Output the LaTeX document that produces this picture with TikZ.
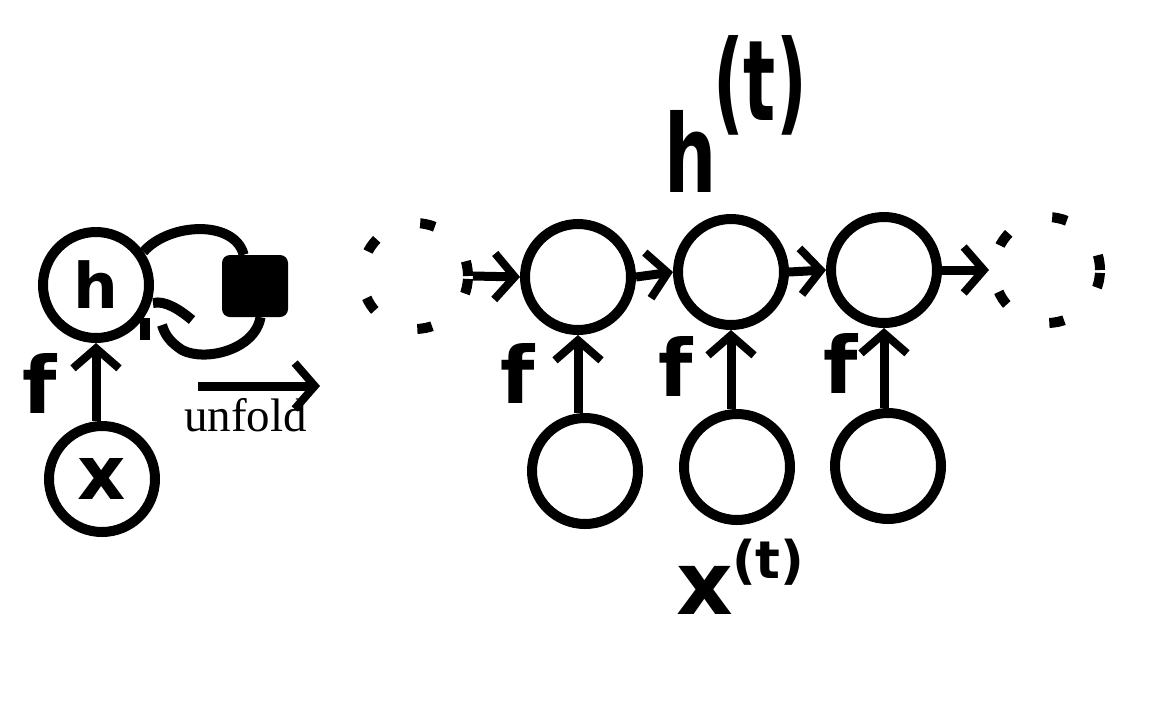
\documentclass[tikz,border=0pt]{standalone}
\usepackage{fontspec}
\usepackage{graphicx}
\setmainfont{Liberation Serif}
\newfontfamily\hand{DejaVu Sans}
\usetikzlibrary{arrows.meta}
\tikzset{
  cn/.style={circle, draw, line width=10pt, minimum size=106pt, inner sep=0pt},
  dcn/.style={circle, draw, line width=10pt, minimum size=106pt, dash pattern=on 15pt off 48pt},
  ar/.style={line width=9pt, -{Straight Barb[length=20pt,width=46pt,line width=8pt]}},
  hw/.style={font=\hand\bfseries, inner sep=0pt},
  stroke/.style={line width=10pt},
}
\begin{document}
\begin{tikzpicture}[x=1pt,y=-1pt]
\useasboundingbox (0,0) rectangle (1164,718);
% left folded graph
\node[cn, font=\hand\bfseries\fontsize{63}{63}\selectfont] (h) at (96,285) {h};
\node[cn, font=\hand\bfseries\fontsize{75}{75}\selectfont] (x) at (102,479) {x};
\draw[ar] (h |- x.north) -- (h.south);
\node[hw, font=\hand\bfseries\fontsize{79}{79}\selectfont, anchor=base] (f0) at (40,413) {f};
% recurrence loop
\node[fill, rounded corners=8pt, minimum width=66pt, minimum height=62pt] (box) at (255,286) {};
\draw[stroke] (h.35) .. controls (170,222) and (235,220) .. (box.110);
\draw[stroke] (box.-80) .. controls (255,350) and (205,362) .. (182,350) .. controls (170,342) and (165,335) .. (162,325);
\draw[stroke] (153,303) .. controls (165,300) and (180,310) .. (192,320);
\draw[stroke] (145,318) -- (145,340);
% unfold arrow
\coordinate (u1) at (198,386);
\coordinate (u2) at (320,386);
\draw[ar] (u1) -- (u2);
\node[anchor=base west, inner sep=0pt, font=\fontsize{47}{47}\selectfont] (unf) at (184,431) {unfold};
% unfolded graph
\node[dcn] (L) at (415,276) {};
\node[cn] (A) at (578,277) {};
\node[cn] (B) at (731,272) {};
\node[cn] (C) at (884,270) {};
\node[dcn] (R) at (1047,270) {};
\node[cn] (Ax) at (585,471) {};
\node[cn] (Bx) at (737,467) {};
\node[cn] (Cx) at (888,466) {};
\draw[ar] (L.east) -- (A.west);
\draw[ar] (A.east) -- (B.west);
\draw[ar] (B.east) -- (C.west);
\draw[ar] (C.east) -- (R.west);
\draw[ar] (A |- Ax.north) -- (A.south);
\draw[ar] (B |- Bx.north) -- (B.south);
\draw[ar] (C |- Cx.north) -- (C.south);
\node[hw, font=\hand\bfseries\fontsize{79}{79}\selectfont, anchor=base] (f1) at (518,403) {f};
\node[hw, font=\hand\bfseries\fontsize{79}{79}\selectfont, anchor=base] (f2) at (676,396) {f};
\node[hw, font=\hand\bfseries\fontsize{79}{79}\selectfont, anchor=base] (f3) at (841,393) {f};
% labels
\node[inner sep=0pt, font=\hand\bfseries\fontsize{108}{108}\selectfont, anchor=base west] (hl) at (664,192) {\scalebox{0.68}[1]{h}};
\node[inner sep=0pt, font=\hand\bfseries\fontsize{112}{112}\selectfont, anchor=base west] (hs) at (713,120) {\scalebox{0.6}[1]{(t)}};
\node[hw, font=\hand\bfseries\fontsize{88}{88}\selectfont, anchor=base west] (xl) at (676,614) {x};
\node[hw, font=\hand\bfseries\fontsize{52}{52}\selectfont, anchor=base west] (xs) at (732,578) {(t)};
\end{tikzpicture}
\end{document}
